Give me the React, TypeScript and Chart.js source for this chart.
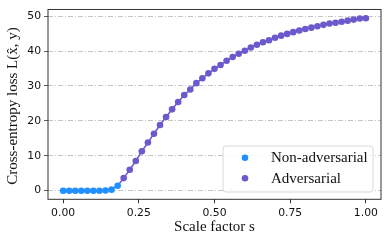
import React, { useEffect, useRef } from "react";
import { Chart, registerables } from "chart.js";

Chart.register(...registerables);

const scaleFactors = [
  0.0, 0.02, 0.04, 0.06, 0.08, 0.1, 0.12, 0.14, 0.16, 0.18,
  0.2, 0.22, 0.24, 0.26, 0.28, 0.3, 0.32, 0.34, 0.36, 0.38,
  0.4, 0.42, 0.44, 0.46, 0.48, 0.5, 0.52, 0.54, 0.56, 0.58,
  0.6, 0.62, 0.64, 0.66, 0.68, 0.7, 0.72, 0.74, 0.76, 0.78,
  0.8, 0.82, 0.84, 0.86, 0.88, 0.9, 0.92, 0.94, 0.96, 0.98, 1.0,
];
const nonAdversarialLoss = [0, 0, 0, 0, 0, 0, 0, 0.05, 0.3, 1.4];
const adversarialLoss = [
  3.6, 6.0, 8.5, 11.3, 13.8, 16.3, 18.8, 21.1, 23.3, 25.4,
  27.4, 29.0, 30.8, 32.2, 33.6, 34.9, 36.0, 37.2, 38.3, 39.2,
  40.1, 41.0, 41.8, 42.5, 43.1, 43.8, 44.4, 44.9, 45.4, 45.9,
  46.3, 46.7, 47.1, 47.5, 47.9, 48.1, 48.4, 48.7, 49.0, 49.3, 49.4,
];
const xTicks = [0, 0.25, 0.5, 0.75, 1.0];
const yTicks = [0, 10, 20, 30, 40, 50];
const seriesLabels = ["Non-adversarial", "Adversarial"];
const xTitle = "Scale factor s";
const yTitle = "Cross-entropy loss L(x\u0302, y)";

const BLUE = "#1E90FF";
const PURPLE = "#6A5ACD";
const SERIF = "'Liberation Serif', 'Times New Roman', serif";
const SANS = "'DejaVu Sans', sans-serif";

export default function App() {
  const ref = useRef<HTMLCanvasElement | null>(null);

  useEffect(() => {
    const canvas = ref.current;
    if (!canvas) return;
    const allLoss = [...nonAdversarialLoss, ...adversarialLoss];
    const nNon = nonAdversarialLoss.length;

    const framePlugin = {
      id: "framePlugin",
      afterDraw(chart: any) {
        const { ctx, chartArea } = chart;
        const { left, right, top, bottom } = chartArea;
        ctx.save();
        // box
        ctx.strokeStyle = "#333";
        ctx.lineWidth = 1;
        ctx.setLineDash([]);
        ctx.strokeRect(left, top, right - left, bottom - top);

        // titles
        ctx.fillStyle = "#111";
        ctx.font = `15px ${SERIF}`;
        ctx.textAlign = "center";
        ctx.textBaseline = "middle";
        ctx.fillText(xTitle, (left + right) / 2, 227);
        ctx.save();
        ctx.translate(13, 106);
        ctx.rotate(-Math.PI / 2);
        ctx.fillText(yTitle, 0, 0);
        ctx.restore();

        // legend
        const lx = 223, ly = 146, lw = 150, lh = 46, r = 3;
        ctx.beginPath();
        ctx.moveTo(lx + r, ly);
        ctx.lineTo(lx + lw - r, ly);
        ctx.quadraticCurveTo(lx + lw, ly, lx + lw, ly + r);
        ctx.lineTo(lx + lw, ly + lh - r);
        ctx.quadraticCurveTo(lx + lw, ly + lh, lx + lw - r, ly + lh);
        ctx.lineTo(lx + r, ly + lh);
        ctx.quadraticCurveTo(lx, ly + lh, lx, ly + lh - r);
        ctx.lineTo(lx, ly + r);
        ctx.quadraticCurveTo(lx, ly, lx + r, ly);
        ctx.closePath();
        ctx.fillStyle = "rgba(255,255,255,0.85)";
        ctx.fill();
        ctx.strokeStyle = "#d8d8d8";
        ctx.lineWidth = 1;
        ctx.stroke();

        const colors = [BLUE, PURPLE];
        const ys = [157.7, 178.3];
        ctx.textAlign = "left";
        ctx.textBaseline = "middle";
        ctx.font = `15px ${SERIF}`;
        seriesLabels.forEach((lab, i) => {
          ctx.beginPath();
          ctx.arc(245, ys[i], 3.3, 0, Math.PI * 2);
          ctx.fillStyle = colors[i];
          ctx.fill();
          ctx.fillStyle = "#111";
          ctx.fillText(lab, 271, ys[i] + 0.5);
        });
        ctx.restore();
      },
    };

    const chart = new Chart(canvas, {
      type: "scatter",
      data: {
        datasets: [
          {
            type: "line",
            data: scaleFactors.map((x, i) => ({ x, y: allLoss[i] })),
            borderColor: PURPLE,
            borderWidth: 1.5,
            pointRadius: 0,
            showLine: true,
            fill: false,
            order: 3,
          } as any,
          {
            label: seriesLabels[0],
            data: scaleFactors.slice(0, nNon).map((x, i) => ({ x, y: nonAdversarialLoss[i] })),
            backgroundColor: BLUE,
            borderColor: BLUE,
            borderWidth: 0,
            pointRadius: 3.3,
            order: 2,
          },
          {
            label: seriesLabels[1],
            data: scaleFactors.slice(nNon).map((x, i) => ({ x, y: adversarialLoss[i] })),
            backgroundColor: PURPLE,
            borderColor: PURPLE,
            borderWidth: 0,
            pointRadius: 3.3,
            order: 1,
          },
        ],
      },
      options: {
        animation: false,
        responsive: false,
        devicePixelRatio: 1,
        layout: { padding: { left: 0, top: 7, right: 7, bottom: 0 } },
        plugins: { legend: { display: false }, tooltip: { enabled: false } },
        scales: {
          x: {
            type: "linear",
            min: -0.05,
            max: 1.05,
            afterBuildTicks: (s: any) => {
              s.ticks = xTicks.map((v) => ({ value: v }));
            },
            afterFit: (s: any) => {
              s.height = 43.7;
            },
            ticks: {
              callback: (v: any) => Number(v).toFixed(2),
              font: { family: SANS, size: 10.8 },
              color: "#111",
              padding: 3,
              maxRotation: 0,
              autoSkip: false,
            },
            grid: {
              drawOnChartArea: false,
              drawTicks: true,
              tickLength: 4,
              tickColor: "#333",
            },
            border: { display: false },
          },
          y: {
            type: "linear",
            min: -2.47,
            max: 51.9,
            afterBuildTicks: (s: any) => {
              s.ticks = yTicks.map((v) => ({ value: v }));
            },
            afterFit: (s: any) => {
              s.width = 48;
            },
            ticks: {
              callback: (v: any) => String(v),
              font: { family: SANS, size: 10.8 },
              color: "#111",
              padding: 3,
            },
            grid: {
              drawOnChartArea: true,
              drawTicks: true,
              tickLength: 4,
              tickColor: "#333",
              color: "#b8b8b8",
              lineWidth: 0.8,
            },
            border: { display: false, dash: [5, 2, 1, 2] },
          },
        },
      },
      plugins: [framePlugin],
    } as any);

    return () => chart.destroy();
  }, []);

  return (
    <div style={{ position: "fixed", left: 0, top: 0, width: 388, height: 243, background: "#fff" }}>
      <canvas ref={ref} width={388} height={243} style={{ display: "block" }} />
    </div>
  );
}
